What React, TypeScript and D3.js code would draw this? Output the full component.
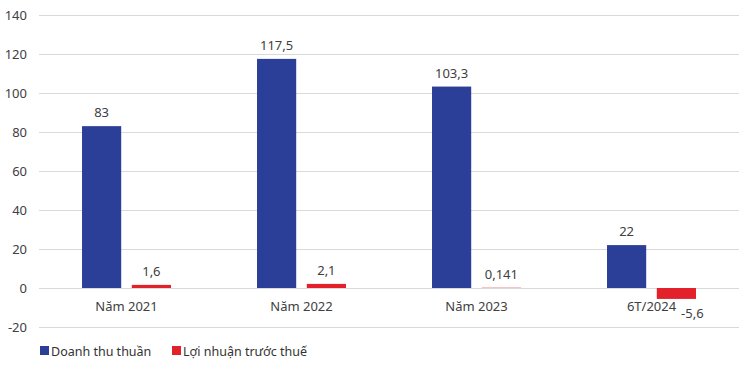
import React, { useEffect, useRef } from "react";
import * as d3 from "d3";

const categories = ["Năm 2021", "Năm 2022", "Năm 2023", "6T/2024"];
const seriesNames = ["Doanh thu thuần", "Lợi nhuận trước thuế"];
const revenue = [83, 117.5, 103.3, 22];
const profit = [1.6, 2.1, 0.141, -5.6];
const revenueLabels = ["83", "117,5", "103,3", "22"];
const profitLabels = ["1,6", "2,1", "0,141", "-5,6"];
const yTicks = [-20, 0, 20, 40, 60, 80, 100, 120, 140];

const colors = ["#2c3f98", "#e3212b"];

const App = () => {
  const chartRef = useRef<SVGSVGElement>(null);

  useEffect(() => {
    const width = 750;
    const height = 374;
    const margin = { top: 15, right: 11, bottom: 47, left: 39 };
    const font = "'Noto Sans', 'Open Sans', sans-serif";

    const svg = d3.select(chartRef.current);
    svg.selectAll("*").remove();
    svg.attr("width", width).attr("height", height);

    const x0 = d3
      .scaleBand()
      .domain(categories)
      .range([margin.left, width - margin.right])
      .padding(0);

    const x1 = d3
      .scaleBand()
      .domain(seriesNames)
      .range([0, x0.bandwidth()])
      .paddingInner(0.213)
      .paddingOuter(0.864);

    const y = d3
      .scaleLinear()
      .domain([-20, 140])
      .range([height - margin.bottom, margin.top]);

    // gridlines
    svg
      .append("g")
      .selectAll("line")
      .data(yTicks)
      .enter()
      .append("line")
      .attr("x1", margin.left)
      .attr("x2", width - margin.right)
      .attr("y1", (d) => Math.round(y(d)) + 0.5)
      .attr("y2", (d) => Math.round(y(d)) + 0.5)
      .attr("stroke", "#d9d9d9")
      .attr("stroke-width", 1.2);

    // y labels
    svg
      .append("g")
      .selectAll("text")
      .data(yTicks)
      .enter()
      .append("text")
      .attr("x", 27)
      .attr("y", (d) => y(d))
      .attr("dy", "0.35em")
      .attr("text-anchor", "end")
      .attr("font-family", font)
      .attr("font-size", 13)
      .attr("fill", "#404040")
      .text((d) => d);

    const rows = categories.map((c, i) => ({
      cat: c,
      vals: [
        { key: seriesNames[0], v: revenue[i], label: revenueLabels[i], c: 0 },
        { key: seriesNames[1], v: profit[i], label: profitLabels[i], c: 1 },
      ],
    }));

    const groups = svg
      .append("g")
      .selectAll("g")
      .data(rows)
      .enter()
      .append("g")
      .attr("transform", (d) => `translate(${x0(d.cat)},0)`);

    groups
      .selectAll("rect")
      .data((d) => d.vals)
      .enter()
      .append("rect")
      .attr("x", (d) => x1(d.key)!)
      .attr("width", x1.bandwidth())
      .attr("y", (d) => y(Math.max(0, d.v)))
      .attr("height", (d) => Math.abs(y(d.v) - y(0)))
      .attr("fill", (d) => colors[d.c]);

    // value labels
    groups
      .selectAll("text")
      .data((d) => d.vals)
      .enter()
      .append("text")
      .attr("x", (d) => x1(d.key)! + x1.bandwidth() / 2 + (d.v < 0 ? 16 : 0))
      .attr("y", (d) => (d.v < 0 ? y(d.v) + 19 : y(d.v) - 9))
      .attr("text-anchor", "middle")
      .attr("font-family", font)
      .attr("font-size", 13)
      .attr("fill", "#404040")
      .text((d) => d.label);

    // category labels
    svg
      .append("g")
      .selectAll("text")
      .data(categories)
      .enter()
      .append("text")
      .attr("x", (d) => x0(d)! + x0.bandwidth() / 2)
      .attr("y", y(0) + 18.5)
      .attr("dy", "0.35em")
      .attr("text-anchor", "middle")
      .attr("font-family", font)
      .attr("font-size", 13)
      .attr("fill", "#404040")
      .text((d) => d);

    // legend
    const legendX = [40, 172];
    const legend = svg
      .append("g")
      .selectAll("g")
      .data(seriesNames)
      .enter()
      .append("g")
      .attr("transform", (d, i) => `translate(${legendX[i]},346)`);
    legend
      .append("rect")
      .attr("width", 9)
      .attr("height", 9)
      .attr("fill", (d, i) => colors[i]);
    legend
      .append("text")
      .attr("x", 11)
      .attr("y", 9.5)
      .attr("font-family", font)
      .attr("font-size", 12.5)
      .attr("fill", "#333")
      .text((d) => d);
  }, []);

  return (
    <svg
      ref={chartRef}
      style={{ position: "absolute", left: 0, top: 0, background: "#fff" }}
    ></svg>
  );
};

export default App;
